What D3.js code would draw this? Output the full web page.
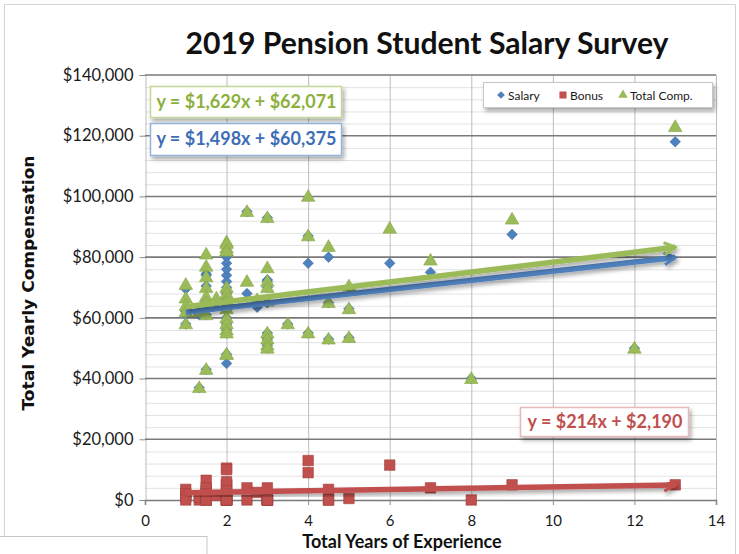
<!DOCTYPE html>
<html>
<head>
<meta charset="utf-8">
<script src="https://cdn.jsdelivr.net/npm/d3@7"></script>
<style>
  body { margin: 0; background: #fff; }
  svg { font-family: Lato, "Open Sans", sans-serif; }
</style>
</head>
<body>
<svg id="chart" width="739" height="554"></svg>
<script>
// one entry per survey response
const years = [1, 1, 1, 1, 1, 1.33, 1.33, 1.5, 1.5, 1.5, 1.5, 1.5, 1.5, 1.5, 1.5, 1.75,
  2, 2, 2, 2, 2, 2, 2, 2, 2, 2, 2, 2, 2, 2, 2, 2, 2.5, 2.5, 2.75,
  3, 3, 3, 3, 3, 3, 3, 3, 3, 3.5, 4, 4, 4, 4.5, 4.5, 4.5, 5, 5, 5, 6, 7, 8, 9, 12, 13];
const salary = [69500, 63000, 62000, 61000, 58000, 37000, 61000, 74500, 74000, 70500, 66000, 65000, 65000, 61000, 43000, 65000,
  80000, 78000, 74000, 72000, 76000, 70000, 68000, 66000, 63000, 63000, 60000, 58000, 56000, 55000, 48000, 45000, 95000, 68000, 63500,
  93000, 72500, 72000, 70000, 65000, 55000, 53000, 51000, 50000, 58000, 87000, 78000, 55000, 80000, 65000, 53000, 70000, 63000, 53500,
  78000, 75000, 40000, 87500, 50000, 118000];
const bonus = [1500, 3500, 2000, 1000, 0, 0, 1000, 6500, 3000, 3000, 4000, 2000, 0, 0, 0, 1500,
  5000, 5000, 10500, 10000, 6000, 0, 0, 0, 2000, 0, 0, 0, 0, 0, 0, 3000, 0, 4000, 2500,
  0, 4000, 0, 0, 500, 0, 0, 0, 0, null, 13000, 9000, null, 3500, 0, 0, 500, null, null,
  11500, 4000, 0, 5000, null, 5000];
const totalComp = [71000, 66500, 64000, 62000, 58000, 37000, 62000, 81000, 77000, 73500, 70000, 67000, 65000, 61000, 43000, 66500,
  85000, 83000, 84500, 82000, 82000, 70000, 68000, 66000, 65000, 63000, 60000, 58000, 56000, 55000, 48000, 48000, 95000, 72000, 66000,
  93000, 76500, 72000, 70000, 65500, 55000, 53000, 51000, 50000, 58000, 100000, 87000, 55000, 83500, 65000, 53000, 70500, 63000, 53500,
  89500, 79000, 40000, 92500, 50000, 123000];

const seriesNames = ["Salary", "Bonus", "Total Comp."];
const seriesColors = ["#4f81bd", "#c0504d", "#9bbb59"];
const trendSlope = [1498, 214, 1629];
const trendIntercept = [60375, 2190, 62071];

const xTicks = [0, 2, 4, 6, 8, 10, 12, 14];
const yTicks = [0, 20000, 40000, 60000, 80000, 100000, 120000, 140000];

const svg = d3.select('#chart');
const plot = { left: 145, right: 716, top: 75, bottom: 500 };

const x = d3.scaleLinear().domain([0, 14]).range([plot.left, plot.right]);
const y = d3.scaleLinear().domain([0, 140000]).range([plot.bottom, plot.top]);
const money = d3.format('$,');

const defs = svg.append('defs');
const shadow = defs.append('filter').attr('id', 'shadow')
    .attr('x', '-10%').attr('y', '-30%').attr('width', '130%').attr('height', '180%');
shadow.append('feDropShadow')
    .attr('dx', 2).attr('dy', 3).attr('stdDeviation', 2)
    .attr('flood-color', '#000').attr('flood-opacity', 0.35);

seriesColors.forEach((c, i) => {
  defs.append('marker')
      .attr('id', `arrow${i}`)
      .attr('markerUnits', 'userSpaceOnUse')
      .attr('viewBox', '-14 -8 16 16')
      .attr('markerWidth', 16).attr('markerHeight', 16)
      .attr('refX', 0).attr('refY', 0)
      .attr('orient', 'auto')
    .append('path')
      .attr('d', 'M-11,-6 L0,0 L-11,6')
      .attr('fill', 'none')
      .attr('stroke', c)
      .attr('stroke-width', 3);
});

// outer frame
svg.append('rect')
    .attr('x', 4.5).attr('y', 4.5).attr('width', 731).attr('height', 560)
    .attr('fill', '#fff').attr('stroke', '#d4d4d4');

// minor gridlines
svg.append('g')
  .selectAll('line')
    .data(d3.range(0, 140001, 4000).filter(v => v % 20000 !== 0))
  .enter().append('line')
    .attr('x1', plot.left).attr('x2', plot.right)
    .attr('y1', d => y(d) + 0.5).attr('y2', d => y(d) + 0.5)
    .attr('stroke', '#e2e2e2');

// vertical gridlines
svg.append('g')
  .selectAll('line')
    .data(xTicks.slice(1))
  .enter().append('line')
    .attr('x1', d => x(d) + 0.5).attr('x2', d => x(d) + 0.5)
    .attr('y1', plot.top).attr('y2', plot.bottom)
    .attr('stroke', '#bdbdbd');

// y axis
const yAxis = svg.append('g')
    .attr('transform', `translate(${plot.left + 0.5},0)`)
    .call(d3.axisLeft(y).tickValues(yTicks).tickFormat(money).tickSize(6).tickPadding(6));
yAxis.select('.domain').attr('stroke', '#bdbdbd');
yAxis.selectAll('.tick line').attr('stroke', '#8c8c8c');
yAxis.selectAll('text').attr('font-size', 16.5).attr('fill', '#1a1a1a')
    .attr('font-family', 'Lato, sans-serif');

// major gridlines
svg.append('g')
  .selectAll('line')
    .data(yTicks.slice(1))
  .enter().append('line')
    .attr('x1', plot.left).attr('x2', plot.right)
    .attr('y1', d => y(d)).attr('y2', d => y(d))
    .attr('stroke', '#7a7a7a').attr('stroke-width', 1.6);

// x axis
const xAxis = svg.append('g')
    .attr('transform', `translate(0,${plot.bottom})`)
    .call(d3.axisBottom(x).tickValues(xTicks).tickSize(5).tickPadding(10));
xAxis.select('.domain').attr('stroke', '#7a7a7a').attr('stroke-width', 1.6);
xAxis.selectAll('.tick line').attr('stroke', '#8c8c8c');
xAxis.selectAll('text').attr('font-size', 15).attr('fill', '#1a1a1a')
    .attr('font-family', 'Lato, sans-serif');

// markers
const diamond = {
  draw(ctx, size) {
    const r = Math.sqrt(size / 2);
    ctx.moveTo(0, -r); ctx.lineTo(r, 0); ctx.lineTo(0, r); ctx.lineTo(-r, 0); ctx.closePath();
  }
};
const symbolTypes = [diamond, d3.symbolSquare, d3.symbolTriangle];
const symbolSizes = [56, 110, 80];
const seriesValues = [salary, bonus, totalComp];
const strokes = ['#3d6fad', '#a33f3c', '#87a84a'];

seriesValues.forEach((vals, i) => {
  const pts = years.map((yr, j) => ({ yr, v: vals[j] })).filter(d => d.v !== null);
  svg.append('g')
    .selectAll('path')
      .data(pts)
    .enter().append('path')
      .attr('transform', d => `translate(${x(d.yr)},${y(d.v) + (i === 2 ? 1 : 0)})`)
      .attr('d', d3.symbol().type(symbolTypes[i]).size(symbolSizes[i]))
      .attr('fill', seriesColors[i])
      .attr('stroke', strokes[i])
      .attr('stroke-width', 0.6);
});

// trendlines, drawn bonus, salary, total
const xMin = d3.min(years);
const xMax = d3.max(years);
[1, 0, 2].forEach(i => {
  svg.append('line')
      .attr('x1', x(xMin)).attr('y1', y(trendSlope[i] * xMin + trendIntercept[i]))
      .attr('x2', x(xMax)).attr('y2', y(trendSlope[i] * xMax + trendIntercept[i]))
      .attr('stroke', seriesColors[i])
      .attr('stroke-width', 5.5)
      .attr('stroke-linecap', 'butt')
      .attr('marker-end', `url(#arrow${i})`)
      .attr('filter', 'url(#shadow)');
});

// trendline equation labels
const eqText = i => `y = ${money(trendSlope[i])}x + ${money(trendIntercept[i])}`;
const eqBoxes = [
  { i: 2, x: 150, y: 86, w: 191, h: 31, text: '#8cb03c', border: '#c4d79b' },
  { i: 0, x: 150, y: 123, w: 191, h: 32, text: '#3d6eb5', border: '#95b3d7' },
  { i: 1, x: 520, y: 407, w: 168, h: 29, text: '#c0504d', border: '#e6b9b8' }
];
eqBoxes.forEach(b => {
  svg.append('rect')
      .attr('x', b.x + 0.5).attr('y', b.y + 0.5).attr('width', b.w).attr('height', b.h)
      .attr('fill', '#fff').attr('stroke', b.border).attr('stroke-width', 1.5)
      .attr('filter', 'url(#shadow)');
  svg.append('text')
      .attr('x', b.x + b.w / 2 + 1).attr('y', b.y + b.h / 2 + 6)
      .attr('text-anchor', 'middle')
      .attr('font-size', 18).attr('font-weight', 'bold')
      .attr('fill', b.text)
      .text(eqText(b.i));
});

// legend
const legend = svg.append('g');
legend.append('rect')
    .attr('x', 483.5).attr('y', 82.5).attr('width', 229).attr('height', 25)
    .attr('fill', '#fff').attr('stroke', '#c8c8c8')
    .attr('filter', 'url(#shadow)');
const legendX = [501, 563, 623];
seriesNames.forEach((name, i) => {
  legend.append('path')
      .attr('transform', `translate(${legendX[i]},${95})`)
      .attr('d', d3.symbol().type(symbolTypes[i]).size([30, 50, 40][i]))
      .attr('fill', seriesColors[i]);
  legend.append('text')
      .attr('x', legendX[i] + 7).attr('y', 99.5)
      .attr('font-size', 12).attr('fill', '#1a1a1a')
      .text(name);
});

// titles
svg.append('text')
    .attr('x', 427).attr('y', 54)
    .attr('text-anchor', 'middle')
    .attr('font-size', 30).attr('font-weight', 'bold').attr('fill', '#111')
    .attr('textLength', 483).attr('lengthAdjust', 'spacingAndGlyphs')
    .text('2019 Pension Student Salary Survey');

svg.append('text')
    .attr('x', 402).attr('y', 548)
    .attr('text-anchor', 'middle')
    .attr('font-size', 18).attr('font-weight', 'bold').attr('fill', '#111')
    .text('Total Years of Experience');

svg.append('text')
    .attr('transform', 'translate(34,283) rotate(-90)')
    .attr('text-anchor', 'middle')
    .attr('font-family', '"DejaVu Sans", sans-serif')
    .attr('font-size', 15).attr('font-weight', 'bold').attr('fill', '#111')
    .attr('textLength', 255).attr('lengthAdjust', 'spacingAndGlyphs')
    .text('Total Yearly Compensation');

// stray box at the bottom left
svg.append('rect')
    .attr('x', -1).attr('y', 536.5).attr('width', 208).attr('height', 30)
    .attr('fill', '#fff').attr('stroke', '#c8c8c8');
</script>
</body>
</html>
